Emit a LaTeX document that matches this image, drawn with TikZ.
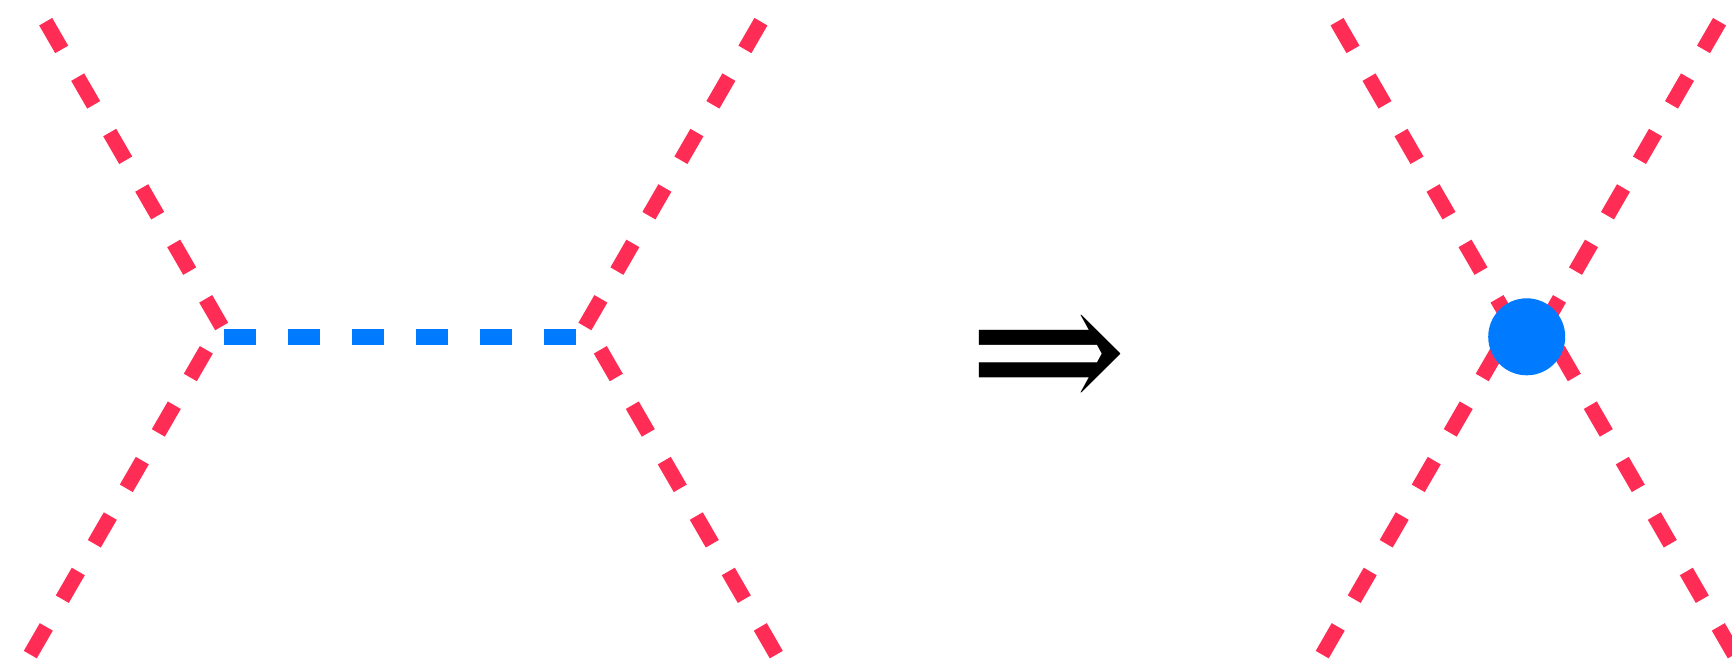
\documentclass[tikz,border=0pt]{standalone}
\usepackage{fontspec}
\newfontfamily\arrowfont{DejaVu Serif}
\definecolor{fred}{RGB}{255,45,85}
\definecolor{fblue}{RGB}{0,122,255}
\begin{document}
\begin{tikzpicture}[x=1pt,y=-1pt,
  scalar/.style={draw=fred,line width=15pt,dash pattern=on 32pt off 32pt},
  medi/.style={draw=fblue,line width=15.5pt,dash pattern=on 32pt off 32pt},
  blob/.style={circle,fill=fblue,inner sep=0pt,minimum size=77pt}]
\useasboundingbox (0,0) rectangle (1732,662);
% left diagram
\coordinate (o1) at (45.7,21.7);
\coordinate (i1) at (221.7,326.5);
\coordinate (o2) at (30.3,654.6);
\coordinate (i2) at (206.3,349.8);
\coordinate (o3) at (760.9,21.7);
\coordinate (i3) at (584.9,326.5);
\coordinate (o4) at (776.3,654.6);
\coordinate (i4) at (600.3,349.8);
\coordinate (va) at (224.3,337);
\coordinate (vb) at (576.3,337);
\draw[scalar] (o1) -- (i1);
\draw[scalar] (o2) -- (i2);
\draw[scalar] (o3) -- (i3);
\draw[scalar] (o4) -- (i4);
\draw[medi] (va) -- (vb);
% arrow
\node[inner sep=0pt,anchor=base,font=\arrowfont\fontsize{190}{190}\selectfont] (imp) at (1047.7,415.5) {⇒};
% right diagram
\coordinate (p1) at (1337,21.7);
\coordinate (j1) at (1513,326.5);
\coordinate (p2) at (1322.2,654.6);
\coordinate (j2) at (1498.2,349.8);
\coordinate (p3) at (1719.5,21.7);
\coordinate (j3) at (1543.5,326.5);
\coordinate (p4) at (1734.3,654.6);
\coordinate (j4) at (1558.3,349.8);
\draw[scalar] (p1) -- (j1);
\draw[scalar] (p2) -- (j2);
\draw[scalar] (p3) -- (j3);
\draw[scalar] (p4) -- (j4);
\node[blob] (c) at (1526.7,336.8) {};
\end{tikzpicture}
\end{document}
